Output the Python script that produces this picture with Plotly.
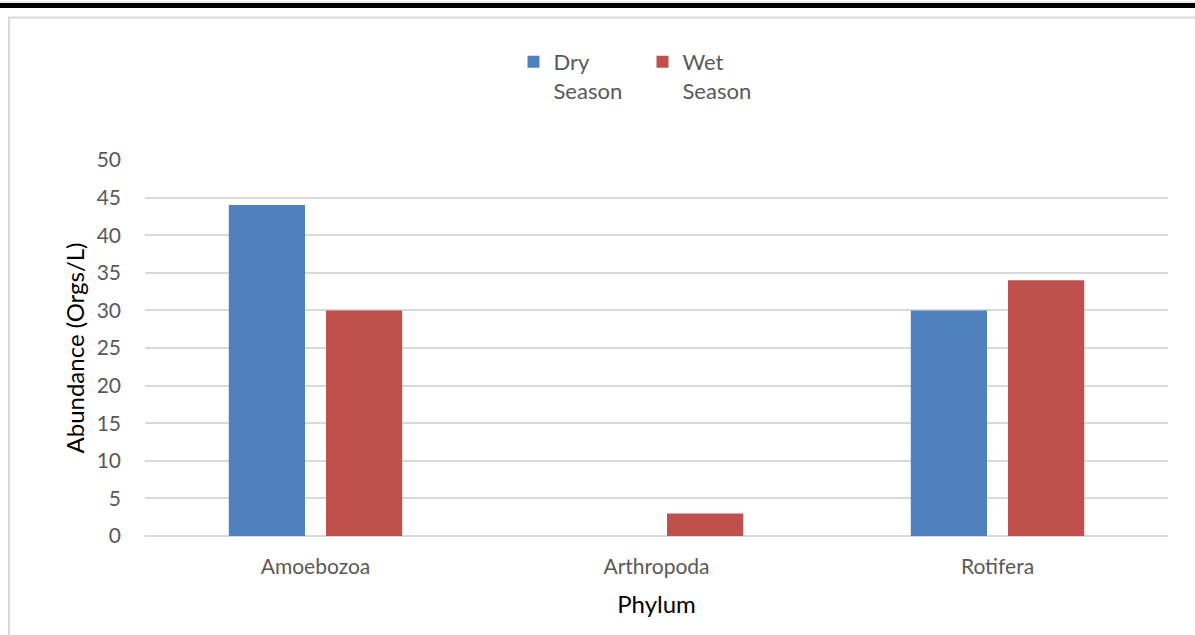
import plotly.graph_objects as go

categories = ["Amoebozoa", "Arthropoda", "Rotifera"]
dry_season = [44, 0, 30]
wet_season = [30, 3, 34]
series_names = ["Dry<br>Season", "Wet<br>Season"]
y_ticks = [0, 5, 10, 15, 20, 25, 30, 35, 40, 45, 50]

W, H = 1195, 635
L, R, T, B = 145, 1168, 160, 536
pw, ph = R - L, B - T

def px(x):
    return (x - L) / pw

def py(y):
    return (B - y) / ph

FONT = "Lato, 'Open Sans', sans-serif"

fig = go.Figure()
fig.add_trace(go.Bar(x=categories, y=dry_season, name=series_names[0],
                     marker=dict(color="#4f81bd", line=dict(width=0))))
fig.add_trace(go.Bar(x=categories, y=wet_season, name=series_names[1],
                     marker=dict(color="#c0504d", line=dict(width=0))))

shapes = [
    dict(type="rect", xref="paper", yref="paper", x0=px(0), x1=px(W), y0=py(8), y1=py(3),
         fillcolor="black", line=dict(width=0), layer="above"),
    dict(type="line", xref="paper", yref="paper", x0=px(0), x1=px(W), y0=py(2), y1=py(2),
         line=dict(color="#d9d9d9", width=1)),
    dict(type="line", xref="paper", yref="paper", x0=px(8), x1=px(W), y0=py(17.5), y1=py(17.5),
         line=dict(color="#d9d9d9", width=2)),
    dict(type="line", xref="paper", yref="paper", x0=px(9), x1=px(9), y0=py(17), y1=py(H + 5),
         line=dict(color="#d9d9d9", width=2)),
]

fig.update_layout(
    width=W, height=H,
    margin=dict(l=L, r=W - R, t=T, b=H - B, pad=0),
    paper_bgcolor="white", plot_bgcolor="white",
    barmode="group", bargap=0.43, bargroupgap=0.216,
    font=dict(family=FONT, size=21, color="#595959"),
    showlegend=True,
    legend=dict(orientation="h", x=0.5 - 14 / pw, xanchor="center", y=py(41), yanchor="top",
                font=dict(size=22, color="#595959"), itemwidth=30, valign="top",
                traceorder="normal", entrywidth=84),
    xaxis=dict(showgrid=False, showline=False, ticks="", tickfont=dict(size=21, color="#595959"),
               ticklabelstandoff=16,
               title=dict(text="Phylum", font=dict(size=24, color="#000000"), standoff=19)),
    yaxis=dict(range=[0, 50], tickvals=y_ticks, showgrid=True, gridcolor="#d9d9d9", gridwidth=2,
               zeroline=True, zerolinecolor="#d9d9d9", zerolinewidth=2, showline=False,
               ticks="", tickfont=dict(size=21, color="#595959"), ticklabelstandoff=23,
               title=dict(text="Abundance (Orgs/L)", font=dict(size=24, color="#000000"), standoff=5)),
    shapes=shapes,
)

fig.write_html("out.html", config={"displayModeBar": False})
